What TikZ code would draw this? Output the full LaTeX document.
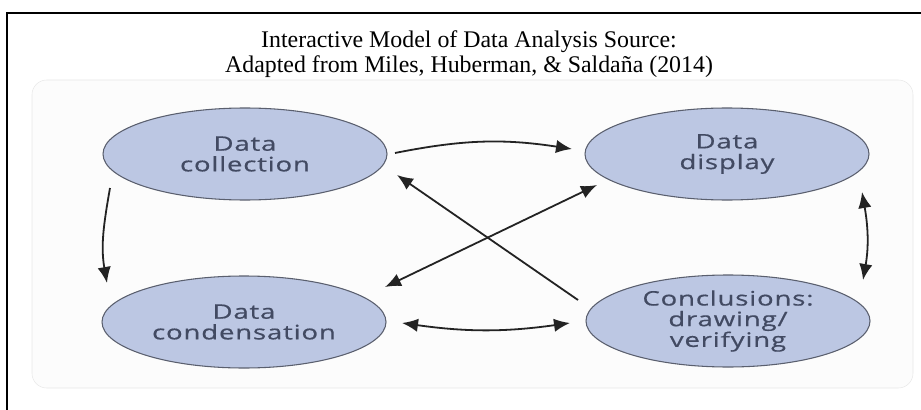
\documentclass[tikz,border=0pt]{standalone}
\usepackage{fontspec}
\setmainfont{Liberation Serif}
\newfontfamily\stagefont[FakeStretch=1.38,LetterSpace=4,FakeBold=0.5]{Open Sans}
\usetikzlibrary{shapes.geometric, arrows.meta}
\definecolor{stagefill}{RGB}{188,199,227}
\definecolor{stageline}{RGB}{90,95,110}
\definecolor{stagetext}{RGB}{66,74,98}
\definecolor{arrowcol}{RGB}{35,35,35}
\definecolor{panelfill}{RGB}{252,252,252}
\definecolor{panelline}{RGB}{232,232,232}

\begin{document}
\begin{tikzpicture}[x=0.75pt, y=0.75pt, >={Latex[length=12pt,width=10pt]},
  stage/.style={ellipse, draw=stageline, line width=0.8pt, fill=stagefill, minimum width=213pt, minimum height=69pt, inner sep=0pt, align=center, text=stagetext, font=\stagefont\fontsize{15}{15.5}\selectfont},
  link/.style={line width=1.35pt, draw=arrowcol}]
  \useasboundingbox (0,0) rectangle (921,-410);
  % Frame and panel
  \draw[line width=1.5pt] (7,-410) -- (7,-13) -- (921,-13);
  \draw[rounded corners=11pt, fill=panelfill, draw=panelline] (32,-80) rectangle (913,-388);
  % Title
  \node[align=center, font=\fontsize{17.9}{18.75}\selectfont, anchor=base] (title) at (469,-73) {Interactive Model of Data Analysis Source:\\Adapted from Miles, Huberman, \& Saldaña (2014)};
  % The four stages
  \node[stage] (coll) at (245,-154) {Data\\collection};
  \node[stage] (disp) at (727,-154) {Data\\display};
  \node[stage] (cond) at (244,-322) {Data\\condensation};
  \node[stage] (concl) at (728,-321) {Conclusions:\\drawing/\\verifying};
  % Curved links
  \draw[link, ->] ([shift={(150,1)}]coll.center) to[bend left=10] ([shift={(-155,5)}]disp.center);
  \draw[link, <->] ([shift={(158,-1)}]cond.center) to[bend right=8] ([shift={(-158,-2)}]concl.center);
  \draw[link, ->] ([shift={(-135,-34)}]coll.center) to[out=-100, in=100] ([shift={(-137,39)}]cond.center);
  \draw[link, <->] ([shift={(135,-38)}]disp.center) to[out=-80, in=80] ([shift={(135,41)}]concl.center);
  % Crossing links
  \draw[link, ->] ([shift={(-150,21)}]concl.center) -- ([shift={(152,-21)}]coll.center);
  \draw[link, <->] ([shift={(141,35)}]cond.center) -- ([shift={(-130,-31)}]disp.center);
\end{tikzpicture}
\end{document}
